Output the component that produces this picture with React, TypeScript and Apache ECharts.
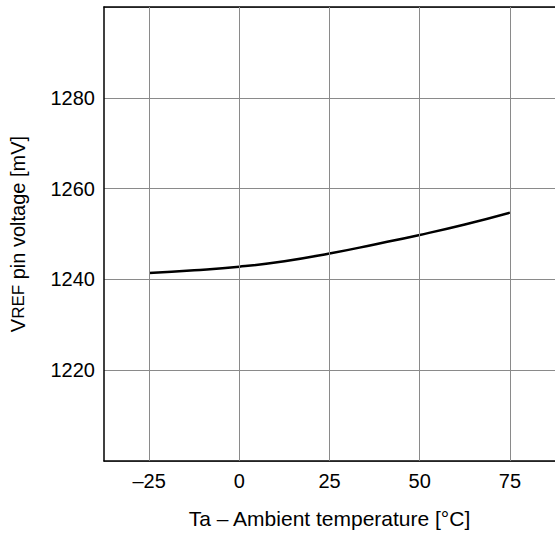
import React, { useEffect, useRef } from "react";
import * as echarts from "echarts";

const temps = [-25, -12.5, 0, 12.5, 25, 37.5, 50, 62.5, 75];
const vref = [1241.4, 1242.0, 1242.8, 1244.0, 1245.7, 1247.7, 1249.8, 1252.1, 1254.7];
const xTicks = [-25, 0, 25, 50, 75];
const yLabeled = [1220, 1240, 1260, 1280];

export default function App() {
  const ref = useRef<HTMLDivElement>(null);
  useEffect(() => {
    if (!ref.current) return;
    const chart = echarts.init(ref.current, undefined, { renderer: "svg" });
    const font = "'Liberation Sans', Arial, sans-serif";
    chart.setOption({
      animation: false,
      backgroundColor: "#ffffff",
      grid: { left: 104, right: -3, top: 7, bottom: 74, containLabel: false },
      xAxis: [
        {
          type: "value",
          min: -37.5,
          max: 87.5,
          position: "bottom",
          axisLine: { show: true, onZero: false, lineStyle: { color: "#000", width: 1.5 } },
          axisTick: { show: false, customValues: xTicks },
          axisLabel: {
            customValues: xTicks,
            margin: 10,
            color: "#000",
            fontSize: 20,
            fontFamily: font,
            formatter: (v: number) => (v < 0 ? "\u2013" + Math.abs(v) : String(v)),
          },
          splitLine: { show: false },
          name: "Ta \u2013 Ambient temperature [\u00b0C]",
          nameLocation: "middle",
          nameGap: 47,
          nameTextStyle: { color: "#000", fontSize: 21, fontFamily: font, verticalAlign: "top" },
        },
        {
          type: "value",
          min: -37.5,
          max: 87.5,
          position: "top",
          axisLine: { show: true, onZero: false, lineStyle: { color: "#000", width: 1.5 } },
          axisTick: { show: false },
          axisLabel: { show: false },
          splitLine: { show: false },
        },
      ],
      yAxis: {
        type: "value",
        min: 1200,
        max: 1300,
        interval: 20,
        axisLine: { show: true, onZero: false, lineStyle: { color: "#000", width: 1.5 } },
        axisTick: { show: false },
        axisLabel: {
          margin: 9,
          color: "#000",
          fontSize: 20,
          fontFamily: font,
          formatter: (v: number) => (yLabeled.includes(v) ? String(v) : ""),
        },
        splitLine: { show: true, lineStyle: { color: "#8a8a8a", width: 1 } },
        name: "{v|V}{r|REF}{v| pin voltage [mV]}",
        nameLocation: "middle",
        nameGap: 76,
        nameRotate: 90,
        nameTextStyle: {
          color: "#000",
          fontSize: 20,
          fontFamily: font,
          rich: {
            v: { fontSize: 20, fontFamily: font, color: "#000" },
            r: { fontSize: 17, fontFamily: font, color: "#000" },
          },
        },
      },
      series: [
        {
          type: "line",
          data: temps.map((t, i) => [t, vref[i]]),
          smooth: true,
          showSymbol: false,
          lineStyle: { color: "#000", width: 2.5 },
          markLine: {
            silent: true,
            symbol: "none",
            label: { show: false },
            lineStyle: { color: "#8a8a8a", width: 1, type: "solid" },
            data: xTicks.map((x) => ({ xAxis: x })),
          },
          z: 3,
        },
      ],
    });
    return () => chart.dispose();
  }, []);
  return (
    <div
      ref={ref}
      style={{ position: "fixed", left: 0, top: 0, width: 555, height: 535, background: "#fff" }}
    />
  );
}
